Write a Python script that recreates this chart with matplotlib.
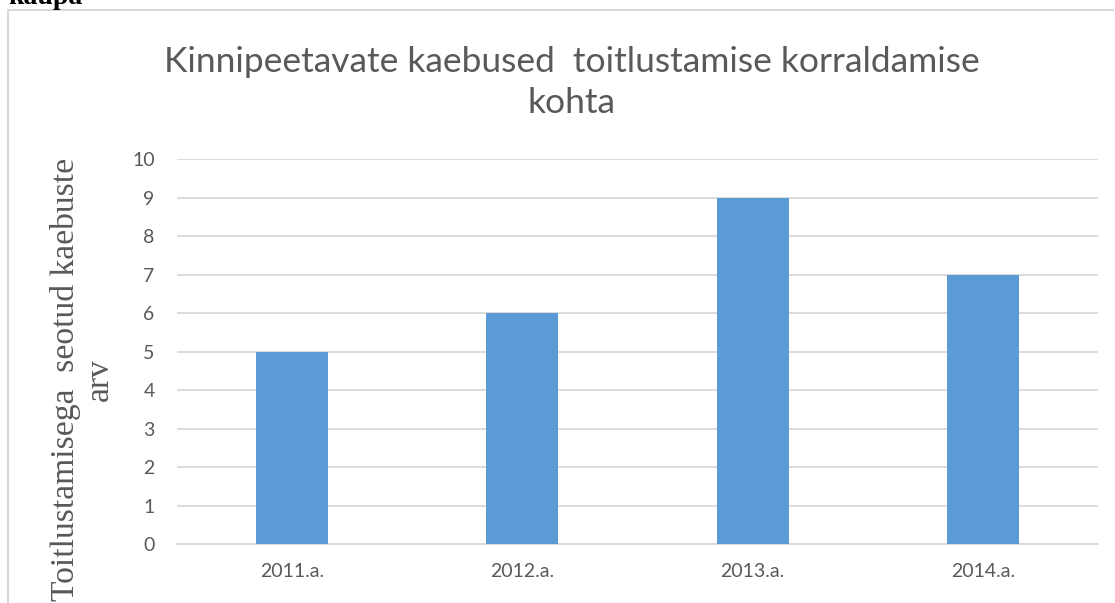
import matplotlib.pyplot as plt
from matplotlib.lines import Line2D

# data
years = ["2011.a.", "2012.a.", "2013.a.", "2014.a."]
complaints = [5, 6, 9, 7]
y_ticks = list(range(0, 11))

title = "Kinnipeetavate kaebused  toitlustamise korraldamise\nkohta"
y_label = "Toitlustamisega  seotud kaebuste\narv"

bar_color = "#5B9BD5"
grid_color = "#D9D9D9"
text_color = "#595959"

fig = plt.figure(figsize=(11.15, 6.03), dpi=100)
ax = fig.add_axes([0.1587, 0.0978, 0.8260, 0.6385])

x = range(len(years))
ax.bar(x, complaints, width=0.313, color=bar_color, zorder=3)

ax.set_xlim(-0.5, len(years) - 0.5)
ax.set_ylim(0, 10)
ax.set_yticks(y_ticks)
ax.set_xticks(list(x))
ax.set_xticklabels(years)

ax.grid(axis="y", color=grid_color, linewidth=1.3, zorder=0)
for side in ["top", "right", "left"]:
    ax.spines[side].set_visible(False)
ax.spines["bottom"].set_color(grid_color)
ax.spines["bottom"].set_linewidth(1.3)

ax.tick_params(axis="both", length=0, labelsize=14, labelcolor=text_color)
ax.tick_params(axis="y", pad=16)
ax.tick_params(axis="x", pad=14)
for lbl in ax.get_xticklabels() + ax.get_yticklabels():
    lbl.set_family("Lato")

# title
fig.text(0.513, 0.863, title, ha="center", va="center", fontsize=25.5,
         color=text_color, family="Lato", linespacing=1.33)

# y label (serif)
fig.text(0.074, 0.370, y_label, ha="center", va="center", rotation=90,
         fontsize=24.2, family="Liberation Serif", color=text_color,
         linespacing=1.12)

# cut-off caption text above the chart
fig.text(8 / 1115, 1 - 4 / 603, "kaupa", ha="left", va="baseline",
         fontsize=20, family="Liberation Serif", fontweight="bold",
         color="black")

# chart border (cut at right and bottom)
fig.add_artist(Line2D([8 / 1115, 1113 / 1115], [1 - 10 / 603, 1 - 10 / 603],
                      transform=fig.transFigure, color=grid_color, linewidth=1.5))
fig.add_artist(Line2D([8 / 1115, 8 / 1115], [1 - 10 / 603, 0],
                      transform=fig.transFigure, color=grid_color, linewidth=1.5))

fig.savefig("out.png", dpi=100)
